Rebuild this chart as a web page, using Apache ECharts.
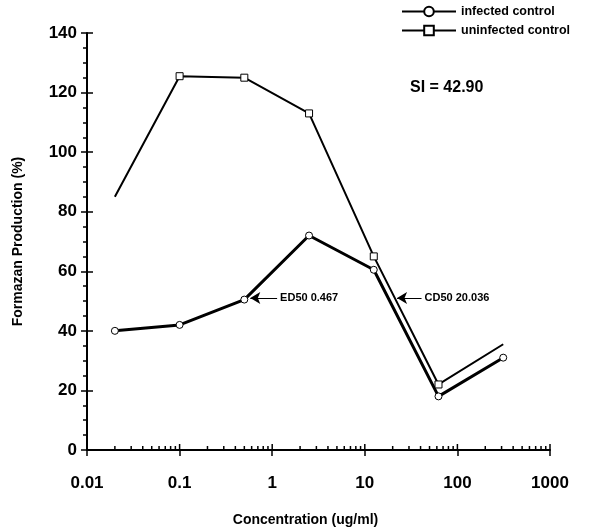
<!DOCTYPE html>
<html>
<head>
<meta charset="utf-8">
<script src="https://cdn.jsdelivr.net/npm/echarts@6/dist/echarts.min.js"></script>
<style>
  html, body { margin: 0; padding: 0; background: #fff; }
  #main { width: 596px; height: 530px; }
</style>
</head>
<body>
<div id="main"></div>
<script>
// concentrations (ug/ml), 5-fold dilutions
var concentrations = [0.02, 0.1, 0.5, 2.5, 12.5, 62.5, 312.5];
var infected = [40, 42, 50.5, 72, 60.5, 18, 31];
var uninfected = [85, 125.5, 125, 113, 65, 22, 35.5];
var decades = [0.1, 1, 10, 100, 1000];
var minorTicks = [];
[0.01, 0.1, 1, 10, 100].forEach(function (d) {
  for (var k = 2; k <= 9; k++) minorTicks.push(d * k);
});

function pairs(ys, hideEnds) {
  return concentrations.map(function (x, i) {
    var item = { value: [x, ys[i]] };
    if (hideEnds && (i === 0 || i === concentrations.length - 1)) item.symbol = 'none';
    return item;
  });
}

var font = 'Liberation Sans';
var myChart = echarts.init(document.getElementById('main'));

var option = {
  backgroundColor: '#fff',
  animation: false,
  grid: { left: 87, right: 46, top: 33, bottom: 80, outerBoundsMode: 'none' },
  legend: {
    left: 396, top: 0, orient: 'vertical', itemGap: 6,
    itemWidth: 54, itemHeight: 12,
    textStyle: { fontFamily: font, fontWeight: 'bold', fontSize: 12.5, color: '#000' },
    data: ['infected control', 'uninfected control']
  },
  xAxis: {
    type: 'log', logBase: 10, min: 0.01, max: 1000,
    name: 'Concentration (ug/ml)', nameLocation: 'middle', nameGap: 63,
    nameTextStyle: { fontFamily: font, fontWeight: 'bold', fontSize: 14, color: '#000', padding: [0, 26, 0, 0] },
    axisLine: { lineStyle: { color: '#000', width: 2 } },
    axisTick: { show: true, length: 6, lineStyle: { color: '#000', width: 1.5 } },
    axisLabel: {
      fontFamily: font, fontWeight: 'bold', fontSize: 17, color: '#000', margin: 25,
      formatter: function (v) { return String(+v.toPrecision(6)); }
    },
    splitLine: { show: false }
  },
  yAxis: [{
    type: 'value', min: 0, max: 140, interval: 20,
    name: 'Formazan Production (%)', nameLocation: 'middle', nameGap: 62,
    nameTextStyle: { fontFamily: font, fontWeight: 'bold', fontSize: 14, color: '#000' },
    axisLine: { show: true, lineStyle: { color: '#000', width: 2 } },
    axisTick: { show: true, length: 6, lineStyle: { color: '#000', width: 1.5 } },
    axisLabel: { fontFamily: font, fontWeight: 'bold', fontSize: 17, color: '#000', margin: 10 },
    minorTick: { show: true, splitNumber: 4, length: 4, lineStyle: { color: '#000', width: 1.5 } },
    splitLine: { show: false }
  }, {
    type: 'value', min: 0, max: 140, interval: 20, position: 'left',
    axisLine: { show: false },
    axisTick: { show: true, inside: true, length: 6, lineStyle: { color: '#000', width: 1.5 } },
    axisLabel: { show: false },
    splitLine: { show: false }
  }],
  series: [{
    name: 'infected control', type: 'line',
    data: pairs(infected, false),
    symbol: 'circle', symbolSize: 7,
    itemStyle: { color: '#fff', borderColor: '#000', borderWidth: 1 },
    lineStyle: { color: '#000', width: 3 },
    markLine: {
      silent: true, symbol: ['none', 'arrow'], symbolSize: [9, 10],
      lineStyle: { color: '#000', width: 1, type: 'solid' },
      label: { show: true, position: 'start', fontFamily: font, fontWeight: 'bold', fontSize: 11, color: '#000', distance: 3 },
      data: [
        [{ coord: [1.13, 51], name: 'ED50 0.467', label: { formatter: '{b}' } }, { coord: [0.58, 51] }],
        [{ coord: [41, 51], name: 'CD50 20.036', label: { formatter: '{b}' } }, { coord: [22.3, 51] }]
      ]
    }
  }, {
    name: 'uninfected control', type: 'line',
    data: pairs(uninfected, true),
    symbol: 'rect', symbolSize: 7,
    itemStyle: { color: '#fff', borderColor: '#000', borderWidth: 1 },
    lineStyle: { color: '#000', width: 2 }
  }, {
    // minor log ticks (and upper half of decade ticks) on the x axis
    type: 'custom', silent: true,
    data: minorTicks.map(function (v) { return [v, 4]; })
      .concat(decades.map(function (v) { return [v, 6]; })),
    renderItem: function (params, api) {
      var p = api.coord([api.value(0), 0]);
      var len = api.value(1);
      return {
        type: 'line',
        shape: { x1: p[0], y1: p[1], x2: p[0], y2: p[1] - len },
        style: { stroke: '#000', lineWidth: 1.5 }
      };
    },
    z: 5
  }],
  graphic: [{
    type: 'text', left: 410, top: 80,
    style: { text: 'SI = 42.90', fontFamily: font, fontWeight: 'bold', fontSize: 16, fill: '#000' }
  }]
};

myChart.setOption(option);
</script>
</body>
</html>
